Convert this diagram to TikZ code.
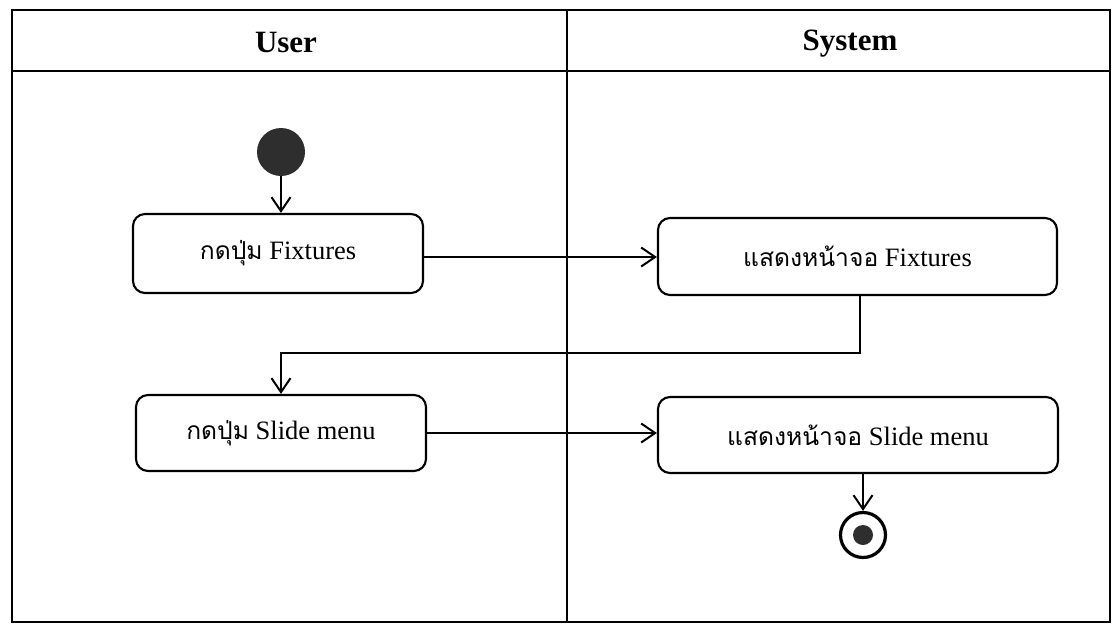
\documentclass[tikz,border=0pt]{standalone}
\usepackage{fontspec}
\setmainfont{Liberation Serif}
\newfontfamily\thaifont[Script=Thai,Scale=0.93]{Loma}
\usetikzlibrary{arrows.meta}
\begin{document}
\begin{tikzpicture}[x=1pt,y=-1pt,
  lane/.style={line width=2.8pt},
  divider/.style={line width=2pt},
  header/.style={font=\bfseries\fontsize{31}{36}\selectfont},
  action/.style={draw, line width=2.1pt, rounded corners=12pt,
    font=\fontsize{26.5}{30}\selectfont, inner sep=0pt},
  flow/.style={line width=2pt, -{Straight Barb[length=14pt,width=19pt]}},
  startstate/.style={circle, fill=black!82, minimum size=48pt, inner sep=0pt},
  endstate/.style={circle, draw, line width=3.2pt, minimum size=45pt, inner sep=0pt}
]
\useasboundingbox (0,0) rectangle (1120,627);

% swimlane frame
\draw[lane] (12,10) rectangle (1110,622);
\draw[lane] (12,71) -- (1110,71);
\draw[divider] (567,10) -- (567,622);
\node[header] (user) at (286,42) {User};
\node[header] (system) at (850,44) {System};

% activity states
\node[startstate] (start) at (281,152) {};
\node[action, minimum width=290pt, minimum height=79pt] (a1) at (278,253.5)
  {{\thaifont กดปุ่ม} Fixtures};
\node[action, minimum width=399pt, minimum height=77pt] (a2) at (857.5,256.5)
  {{\thaifont แสดงหน้าจอ} Fixtures};
\node[action, minimum width=290pt, minimum height=76pt] (a3) at (281,433)
  {{\thaifont กดปุ่ม} Slide menu};
\node[action, minimum width=400pt, minimum height=76pt] (a4) at (858,435)
  {{\thaifont แสดงหน้าจอ} Slide menu};
\node[endstate] (stop) at (863,535) {};
\fill[black!82] (stop.center) circle (10pt);

% transitions
\draw[flow] (start) -- (start |- a1.north);
\draw[flow] (a1.east |- 0,257) -- (a2.west |- 0,257);
\draw[flow] ([xshift=2pt]a2.south) -- ++(0,57) -| (a3.north);
\draw[flow] (a3.east) -- (a3.east -| a4.west);
\draw[flow] (stop |- a4.south) -- (stop.north);
\end{tikzpicture}
\end{document}
